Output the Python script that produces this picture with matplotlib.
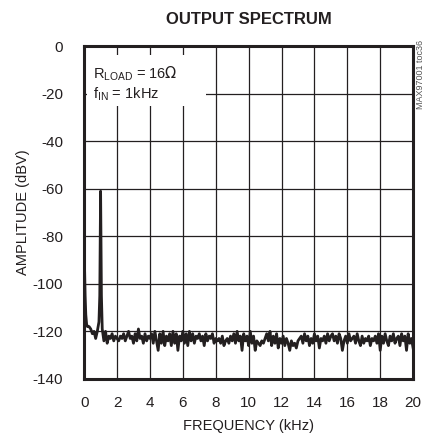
import numpy as np
import matplotlib
matplotlib.use('Agg')
import matplotlib.pyplot as plt
from matplotlib.patches import Rectangle

plt.rcParams['font.family'] = ['Liberation Sans', 'DejaVu Sans']
plt.rcParams['axes.unicode_minus'] = False

# start of the spectrum (DC skirt and 1kHz fundamental)
freq_start = [0.0, 0.03, 0.06, 0.1, 0.15, 0.2, 0.3, 0.4, 0.5, 0.6, 0.7, 0.8,
              0.9, 0.95, 0.98, 1.0, 1.02, 1.05, 1.1]
amp_start = [-90, -95, -105, -113, -117, -118, -118, -119, -121, -120, -123, -120,
             -116, -105, -80, -61, -80, -105, -119]

# noise floor, 1.2kHz .. 20kHz
amp_noise = [
    -124, -120, -125, -122, -123, -121, -124, -122, -123,
    -124, -122, -123, -121, -124, -122, -120, -123, -122, -125,
    -121, -124, -119, -123, -122, -125, -121, -124, -122, -123,
    -121, -125, -120, -124, -128, -121, -125, -120, -126, -122,
    -124, -121, -126, -120, -125, -121, -128, -122, -124, -120,
    -125, -121, -126, -120, -124, -121, -125, -122, -123, -121,
    -124, -122, -126, -121, -124, -122, -123, -121, -125, -123,
    -124, -123, -125, -122, -126, -124, -123, -125, -122, -124,
    -121, -125, -120, -124, -122, -128, -121, -124, -122, -126,
    -120, -125, -122, -128, -124, -125, -126, -124, -125, -123,
    -121, -124, -120, -126, -122, -125, -121, -127, -123, -125,
    -122, -126, -123, -125, -128, -124, -126, -125, -127, -124,
    -123, -122, -125, -121, -124, -122, -126, -123, -125, -121,
    -124, -122, -127, -123, -124, -122, -125, -121, -124, -122,
    -121, -124, -122, -125, -121, -123, -128, -124, -122, -125,
    -121, -124, -123, -122, -125, -121, -124, -126, -122, -125,
    -123, -124, -122, -126, -123, -124, -122, -125, -121, -128,
    -122, -125, -121, -124, -126, -122, -124, -121, -125, -123,
    -122, -126, -121, -124, -122, -128, -121, -125, -123, -127,
]
freq_noise = np.round(np.linspace(1.2, 20.0, len(amp_noise)), 2)

freq = list(freq_start) + list(freq_noise)
amp = amp_start + amp_noise

fig = plt.figure(figsize=(4.25, 4.36), dpi=100)
ax = fig.add_axes([0.198, 0.131, 0.774, 0.763])

ax.plot(freq, amp, color='#231f20', linewidth=2.0, zorder=3)

ax.set_xlim(0, 20)
ax.set_ylim(-140, 0)
ax.set_xticks(range(0, 21, 2))
ax.set_yticks(range(-140, 1, 20))
ax.grid(True, color='#231f20', linewidth=0.9)
ax.tick_params(length=0, labelsize=11, colors='#231f20')
ax.tick_params(axis='y', pad=15)
ax.tick_params(axis='x', pad=12)
for s in ax.spines.values():
    s.set_linewidth(2.2)
    s.set_color('#231f20')

# white box behind the conditions text
ax.add_patch(Rectangle((0.2, -25), 7.2, 21.2, facecolor='white', edgecolor='none', zorder=2))
ax.text(0.55, -11.5, r'R$_{\mathregular{LOAD}}$ = 16$\Omega$', fontsize=10.5,
        va='center', ha='left', zorder=4, color='#231f20')
ax.text(0.55, -20, r'f$_{\mathregular{IN}}$ = 1kHz', fontsize=10.5,
        va='center', ha='left', zorder=4, color='#231f20')

ax.set_xlabel('FREQUENCY (kHz)', fontsize=10.5, color='#231f20', labelpad=7)
ax.set_ylabel('AMPLITUDE (dBV)', fontsize=10.5, color='#231f20', labelpad=2)
fig.text(0.586, 0.955, 'OUTPUT SPECTRUM', ha='center', va='center',
         fontsize=12, fontweight='bold', color='#231f20')
fig.text(0.99, 0.83, 'MAX97001 toc36', rotation=90, ha='center', va='center',
         fontsize=6.5, color='#555555')

fig.savefig('out.png', dpi=100)
